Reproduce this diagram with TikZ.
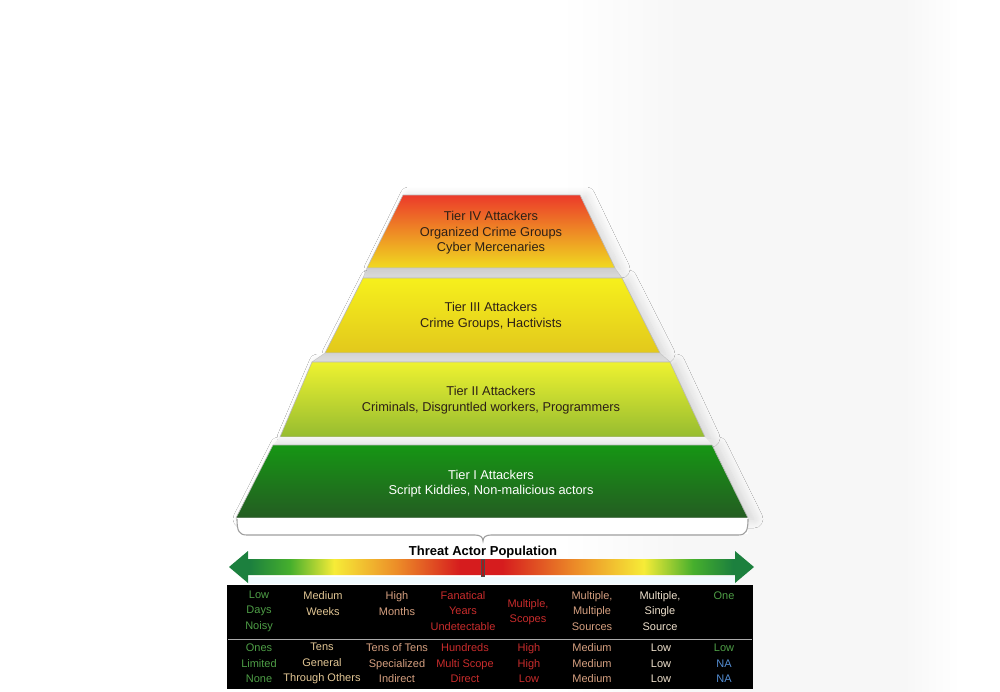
\documentclass[tikz,border=0pt]{standalone}
\usepackage{fontspec}
\setmainfont{Liberation Sans}
\usetikzlibrary{shadows.blur}

% tier colours
\definecolor{tIVtop}{RGB}{236,58,42}
\definecolor{tIVmid}{RGB}{242,150,40}
\definecolor{tIVbot}{RGB}{240,218,32}
\definecolor{tIIItop}{RGB}{246,240,28}
\definecolor{tIIIbot}{RGB}{226,200,28}
\definecolor{tIItop}{RGB}{238,242,48}
\definecolor{tIImid}{RGB}{205,222,42}
\definecolor{tIIbot}{RGB}{150,188,48}
\definecolor{tItop}{RGB}{22,150,20}
\definecolor{tIbot}{RGB}{36,92,34}
\definecolor{tiertext}{RGB}{45,32,22}
% scale bar colours
\definecolor{adkgreen}{RGB}{28,128,62}
\definecolor{agreen}{RGB}{70,175,45}
\definecolor{ayellow}{RGB}{246,236,55}
\definecolor{aorange}{RGB}{236,140,40}
\definecolor{ared}{RGB}{214,28,30}
% table text colours
\definecolor{cgreen}{RGB}{78,158,70}
\definecolor{ctan}{RGB}{226,198,148}
\definecolor{cpeach}{RGB}{214,160,128}
\definecolor{cred}{RGB}{200,44,44}
\definecolor{clight}{RGB}{238,224,204}
\definecolor{cblue}{RGB}{84,142,212}
\definecolor{haze}{RGB}{247,247,247}

\pgfdeclarehorizontalshading{threatbar}{100bp}{color(0bp)=(adkgreen); color(25bp)=(adkgreen);
  color(27bp)=(adkgreen); color(30.8bp)=(agreen); color(35bp)=(ayellow); color(41bp)=(aorange);
  color(47bp)=(ared); color(51bp)=(ared); color(58bp)=(aorange); color(64.5bp)=(ayellow);
  color(69.2bp)=(agreen); color(73bp)=(adkgreen); color(75bp)=(adkgreen); color(100bp)=(adkgreen)}
\pgfdeclarehorizontalshading{backhaze}{100bp}{color(0bp)=(white); color(25bp)=(white);
  color(40bp)=(haze); color(68bp)=(haze); color(75bp)=(white); color(100bp)=(white)}

\tikzset{
  tier/.style={draw=gray!55, line width=0.6pt,
    blur shadow={shadow xshift=6pt, shadow yshift=-1pt, shadow blur radius=9pt,
      shadow blur steps=10, shadow opacity=14}},
  shelf/.style={draw=gray!45, line width=0.4pt},
  tiertxt/.style={font=\fontsize{12.8}{15.5}\selectfont, align=center, text=tiertext},
  cell/.style={font=\fontsize{11}{15.5}\selectfont, align=center, inner sep=0pt},
}

\begin{document}
\begin{tikzpicture}[x=1pt,y=-1pt]
\useasboundingbox (0,0) rectangle (1000,691);
\fill[white] (0,0) rectangle (1000,691);
% faint haze on the right-hand side
\shade[shading=backhaze] (560,0) rectangle (960,691);

% pyramid tiers
\shade[tier, top color=tIVtop, middle color=tIVmid, bottom color=tIVbot]
  (403,195) -- (580,195) -- (615,268) -- (367,268) -- cycle;
\shade[shelf, top color=gray!40, bottom color=gray!18]
  (367,268) -- (615,268) -- (622,278) -- (363,278) -- cycle;
\shade[tier, top color=tIIItop, bottom color=tIIIbot]
  (363,278) -- (622,278) -- (660,353) -- (325,353) -- cycle;
\shade[shelf, top color=gray!35, bottom color=gray!15]
  (325,353) -- (660,353) -- (670,362) -- (312,362) -- cycle;
\shade[tier, top color=tIItop, middle color=tIImid, bottom color=tIIbot]
  (312,362) -- (670,362) -- (705,437) -- (280,437) -- cycle;
\fill[gray!7]
  (280,437) -- (705,437) -- (712,445) -- (273,445) -- cycle;
\shade[tier, top color=tItop, bottom color=tIbot]
  (273,445) -- (712,445) -- (748,518) -- (236,518) -- cycle;

\node[tiertxt] (t4) at (491,233) {Tier IV Attackers\\Organized Crime Groups\\Cyber Mercenaries};
\node[tiertxt] (t3) at (491,316) {Tier III Attackers\\Crime Groups, Hactivists};
\node[tiertxt] (t2) at (491,400) {Tier II Attackers\\Criminals, Disgruntled workers, Programmers};
\node[tiertxt, text=white] (t1) at (491,483.5) {Tier I Attackers\\Script Kiddies, Non-malicious actors};

% white base slab with its brace
\fill[white] (237,518) rectangle (748,534);
\draw[gray!75, line width=1.1pt]
  (237,519) .. controls (237,531) and (239,535) .. (247,535) -- (475,535)
  .. controls (480,535) and (483,537) .. (483,541)
  .. controls (483,537) and (486,535) .. (491,535) -- (738,535)
  .. controls (746,535) and (748,531) .. (748,519);

\node[font=\fontsize{13}{15}\selectfont\bfseries] (title) at (483,552) {Threat Actor Population};

% two-headed population scale
\coordinate (aL) at (229,567);
\coordinate (aR) at (754,567);
\fill[cyan!6] (248,577) rectangle (735,584);
\shade[shading=threatbar]
  (aL) -- (248,551) -- (248,559) -- (735,559) -- (735,551) -- (aR)
  -- (735,583) -- (735,575) -- (248,575) -- (248,583) -- cycle;
\draw[black!70, fill=ared!80!black, line width=0.5pt] (481.5,559) rectangle (484.5,576);

% table of attributes
\fill[black] (227,585) rectangle (753,689);
\draw[gray!65, line width=1pt] (228,639) -- (752,639);

\node[cell, text=cgreen] (a1) at (259,611) {Low\\Days\\Noisy};
\node[cell, text=ctan]   (a2) at (323,603.5) {Medium\\Weeks};
\node[cell, text=cpeach] (a3) at (397,603.5) {High\\Months};
\node[cell, text=cred]   (a4) at (463,611) {Fanatical\\Years\\Undetectable};
\node[cell, text=cred]   (a5) at (528,612) {Multiple,\\Scopes};
\node[cell, text=cpeach] (a6) at (592,611) {Multiple,\\Multiple\\Sources};
\node[cell, text=clight] (a7) at (660,611) {Multiple,\\Single\\Source};
\node[cell, text=cgreen] (a8) at (724,596) {One};

\node[cell, text=cgreen] (b1) at (259,663.5) {Ones\\Limited\\None};
\node[cell, text=ctan]   (b2) at (322,663.5) {Tens\\General\\Through Others};
\node[cell, text=cpeach] (b3) at (397,663.5) {Tens of Tens\\Specialized\\Indirect};
\node[cell, text=cred]   (b4) at (465,663.5) {Hundreds\\Multi Scope\\Direct};
\node[cell, text=cred]   (b5) at (529,663.5) {High\\High\\Low};
\node[cell, text=cpeach] (b6) at (592,663.5) {Medium\\Medium\\Medium};
\node[cell, text=clight] (b7) at (661,663.5) {Low\\Low\\Low};
\node[cell, text=cgreen] (b8a) at (724,648) {Low};
\node[cell, text=cblue]  (b8b) at (724,671) {NA\\NA};
\end{tikzpicture}
\end{document}
